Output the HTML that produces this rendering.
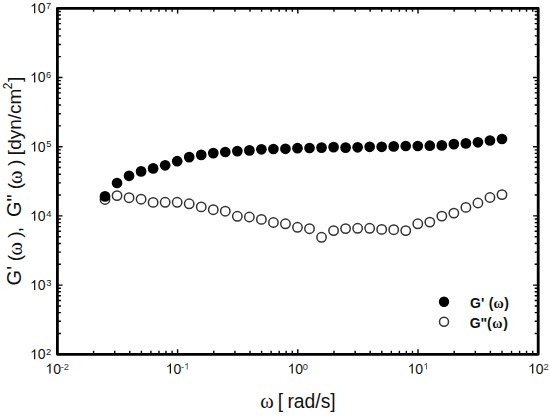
<!DOCTYPE html>
<html><head><meta charset="utf-8"><style>
html,body{margin:0;padding:0;background:#fff;}
body{width:550px;height:416px;overflow:hidden;}
svg{display:block;}
text{fill:#111;}
.o{fill:none;stroke:#333;stroke-width:1.5;}
.f{fill:#000;}
</style></head><body>
<svg width="550" height="416" viewBox="0 0 550 416">
<rect width="550" height="416" fill="#fff"/>
<path d="M93.58 354.30v-3.5M93.58 8.30v3.5M114.75 354.30v-3.5M114.75 8.30v3.5M129.77 354.30v-3.5M129.77 8.30v3.5M141.42 354.30v-3.5M141.42 8.30v3.5M150.93 354.30v-3.5M150.93 8.30v3.5M158.98 354.30v-3.5M158.98 8.30v3.5M165.95 354.30v-3.5M165.95 8.30v3.5M172.10 354.30v-3.5M172.10 8.30v3.5M177.60 354.30v-5.1M177.60 8.30v5.1M213.78 354.30v-3.5M213.78 8.30v3.5M234.95 354.30v-3.5M234.95 8.30v3.5M249.97 354.30v-3.5M249.97 8.30v3.5M261.62 354.30v-3.5M261.62 8.30v3.5M271.13 354.30v-3.5M271.13 8.30v3.5M279.18 354.30v-3.5M279.18 8.30v3.5M286.15 354.30v-3.5M286.15 8.30v3.5M292.30 354.30v-3.5M292.30 8.30v3.5M297.80 354.30v-5.1M297.80 8.30v5.1M333.98 354.30v-3.5M333.98 8.30v3.5M355.15 354.30v-3.5M355.15 8.30v3.5M370.17 354.30v-3.5M370.17 8.30v3.5M381.82 354.30v-3.5M381.82 8.30v3.5M391.33 354.30v-3.5M391.33 8.30v3.5M399.38 354.30v-3.5M399.38 8.30v3.5M406.35 354.30v-3.5M406.35 8.30v3.5M412.50 354.30v-3.5M412.50 8.30v3.5M418.00 354.30v-5.1M418.00 8.30v5.1M454.18 354.30v-3.5M454.18 8.30v3.5M475.35 354.30v-3.5M475.35 8.30v3.5M490.37 354.30v-3.5M490.37 8.30v3.5M502.02 354.30v-3.5M502.02 8.30v3.5M511.53 354.30v-3.5M511.53 8.30v3.5M519.58 354.30v-3.5M519.58 8.30v3.5M526.55 354.30v-3.5M526.55 8.30v3.5M532.70 354.30v-3.5M532.70 8.30v3.5M57.40 333.47h3.5M538.20 333.47h-3.5M57.40 321.28h3.5M538.20 321.28h-3.5M57.40 312.64h3.5M538.20 312.64h-3.5M57.40 305.93h3.5M538.20 305.93h-3.5M57.40 300.45h3.5M538.20 300.45h-3.5M57.40 295.82h3.5M538.20 295.82h-3.5M57.40 291.81h3.5M538.20 291.81h-3.5M57.40 288.27h3.5M538.20 288.27h-3.5M57.40 285.10h5.1M538.20 285.10h-5.1M57.40 264.27h3.5M538.20 264.27h-3.5M57.40 252.08h3.5M538.20 252.08h-3.5M57.40 243.44h3.5M538.20 243.44h-3.5M57.40 236.73h3.5M538.20 236.73h-3.5M57.40 231.25h3.5M538.20 231.25h-3.5M57.40 226.62h3.5M538.20 226.62h-3.5M57.40 222.61h3.5M538.20 222.61h-3.5M57.40 219.07h3.5M538.20 219.07h-3.5M57.40 215.90h5.1M538.20 215.90h-5.1M57.40 195.07h3.5M538.20 195.07h-3.5M57.40 182.88h3.5M538.20 182.88h-3.5M57.40 174.24h3.5M538.20 174.24h-3.5M57.40 167.53h3.5M538.20 167.53h-3.5M57.40 162.05h3.5M538.20 162.05h-3.5M57.40 157.42h3.5M538.20 157.42h-3.5M57.40 153.41h3.5M538.20 153.41h-3.5M57.40 149.87h3.5M538.20 149.87h-3.5M57.40 146.70h5.1M538.20 146.70h-5.1M57.40 125.87h3.5M538.20 125.87h-3.5M57.40 113.68h3.5M538.20 113.68h-3.5M57.40 105.04h3.5M538.20 105.04h-3.5M57.40 98.33h3.5M538.20 98.33h-3.5M57.40 92.85h3.5M538.20 92.85h-3.5M57.40 88.22h3.5M538.20 88.22h-3.5M57.40 84.21h3.5M538.20 84.21h-3.5M57.40 80.67h3.5M538.20 80.67h-3.5M57.40 77.50h5.1M538.20 77.50h-5.1M57.40 56.67h3.5M538.20 56.67h-3.5M57.40 44.48h3.5M538.20 44.48h-3.5M57.40 35.84h3.5M538.20 35.84h-3.5M57.40 29.13h3.5M538.20 29.13h-3.5M57.40 23.65h3.5M538.20 23.65h-3.5M57.40 19.02h3.5M538.20 19.02h-3.5M57.40 15.01h3.5M538.20 15.01h-3.5M57.40 11.47h3.5M538.20 11.47h-3.5" stroke="#000" stroke-width="1.4" fill="none"/>
<rect x="57.4" y="8.3" width="480.80" height="346.00" fill="none" stroke="#000" stroke-width="2.8" stroke-linejoin="round"/>
<path d="M763 0L583 0L583 1147Q518 1085 412 1023Q306 961 222 930L222 1104Q373 1175 486 1276Q599 1377 646 1472L763 1472Z" transform="translate(30.08,359.20) scale(0.006836,-0.006836)" fill="#111"/><text x="37.87" y="359.20" style="font-family:'Liberation Sans',sans-serif;font-size:14.0px;font-weight:normal">0</text>
<text x="46.03" y="355.00" style="font-family:'Liberation Sans',sans-serif;font-size:9.3px;font-weight:normal">2</text>
<path d="M763 0L583 0L583 1147Q518 1085 412 1023Q306 961 222 930L222 1104Q373 1175 486 1276Q599 1377 646 1472L763 1472Z" transform="translate(30.08,290.00) scale(0.006836,-0.006836)" fill="#111"/><text x="37.87" y="290.00" style="font-family:'Liberation Sans',sans-serif;font-size:14.0px;font-weight:normal">0</text>
<text x="46.15" y="285.80" style="font-family:'Liberation Sans',sans-serif;font-size:9.3px;font-weight:normal">3</text>
<path d="M763 0L583 0L583 1147Q518 1085 412 1023Q306 961 222 930L222 1104Q373 1175 486 1276Q599 1377 646 1472L763 1472Z" transform="translate(30.08,220.80) scale(0.006836,-0.006836)" fill="#111"/><text x="37.87" y="220.80" style="font-family:'Liberation Sans',sans-serif;font-size:14.0px;font-weight:normal">0</text>
<text x="46.29" y="216.60" style="font-family:'Liberation Sans',sans-serif;font-size:9.3px;font-weight:normal">4</text>
<path d="M763 0L583 0L583 1147Q518 1085 412 1023Q306 961 222 930L222 1104Q373 1175 486 1276Q599 1377 646 1472L763 1472Z" transform="translate(30.08,151.60) scale(0.006836,-0.006836)" fill="#111"/><text x="37.87" y="151.60" style="font-family:'Liberation Sans',sans-serif;font-size:14.0px;font-weight:normal">0</text>
<text x="46.13" y="147.40" style="font-family:'Liberation Sans',sans-serif;font-size:9.3px;font-weight:normal">5</text>
<path d="M763 0L583 0L583 1147Q518 1085 412 1023Q306 961 222 930L222 1104Q373 1175 486 1276Q599 1377 646 1472L763 1472Z" transform="translate(30.08,82.40) scale(0.006836,-0.006836)" fill="#111"/><text x="37.87" y="82.40" style="font-family:'Liberation Sans',sans-serif;font-size:14.0px;font-weight:normal">0</text>
<text x="46.03" y="78.20" style="font-family:'Liberation Sans',sans-serif;font-size:9.3px;font-weight:normal">6</text>
<path d="M763 0L583 0L583 1147Q518 1085 412 1023Q306 961 222 930L222 1104Q373 1175 486 1276Q599 1377 646 1472L763 1472Z" transform="translate(30.08,13.20) scale(0.006836,-0.006836)" fill="#111"/><text x="37.87" y="13.20" style="font-family:'Liberation Sans',sans-serif;font-size:14.0px;font-weight:normal">0</text>
<text x="46.02" y="9.00" style="font-family:'Liberation Sans',sans-serif;font-size:9.3px;font-weight:normal">7</text>
<path d="M763 0L583 0L583 1147Q518 1085 412 1023Q306 961 222 930L222 1104Q373 1175 486 1276Q599 1377 646 1472L763 1472Z" transform="translate(45.38,373.60) scale(0.006836,-0.006836)" fill="#111"/><text x="53.17" y="373.60" style="font-family:'Liberation Sans',sans-serif;font-size:14.0px;font-weight:normal">0</text>
<text x="60.69" y="369.60" style="font-family:'Liberation Sans',sans-serif;font-size:9.3px;font-weight:normal;fill:#333">-2</text>
<path d="M763 0L583 0L583 1147Q518 1085 412 1023Q306 961 222 930L222 1104Q373 1175 486 1276Q599 1377 646 1472L763 1472Z" transform="translate(165.78,373.60) scale(0.006836,-0.006836)" fill="#111"/><text x="173.57" y="373.60" style="font-family:'Liberation Sans',sans-serif;font-size:14.0px;font-weight:normal">0</text>
<text x="181.09" y="369.60" style="font-family:'Liberation Sans',sans-serif;font-size:9.3px;font-weight:normal;fill:#444">-</text>
<path d="M763 0L583 0L583 1147Q518 1085 412 1023Q306 961 222 930L222 1104Q373 1175 486 1276Q599 1377 646 1472L763 1472Z" transform="translate(184.18,369.60) scale(0.004541,-0.004541)" fill="#444"/>
<path d="M763 0L583 0L583 1147Q518 1085 412 1023Q306 961 222 930L222 1104Q373 1175 486 1276Q599 1377 646 1472L763 1472Z" transform="translate(287.58,373.60) scale(0.006836,-0.006836)" fill="#111"/><text x="295.37" y="373.60" style="font-family:'Liberation Sans',sans-serif;font-size:14.0px;font-weight:normal">0</text>
<text x="302.74" y="369.60" style="font-family:'Liberation Sans',sans-serif;font-size:9.3px;font-weight:normal;fill:#333">0</text>
<path d="M763 0L583 0L583 1147Q518 1085 412 1023Q306 961 222 930L222 1104Q373 1175 486 1276Q599 1377 646 1472L763 1472Z" transform="translate(407.58,373.60) scale(0.006836,-0.006836)" fill="#111"/><text x="415.37" y="373.60" style="font-family:'Liberation Sans',sans-serif;font-size:14.0px;font-weight:normal">0</text>
<path d="M763 0L583 0L583 1147Q518 1085 412 1023Q306 961 222 930L222 1104Q373 1175 486 1276Q599 1377 646 1472L763 1472Z" transform="translate(423.39,369.60) scale(0.004541,-0.004541)" fill="#444"/>
<path d="M763 0L583 0L583 1147Q518 1085 412 1023Q306 961 222 930L222 1104Q373 1175 486 1276Q599 1377 646 1472L763 1472Z" transform="translate(528.08,373.60) scale(0.006836,-0.006836)" fill="#111"/><text x="535.87" y="373.60" style="font-family:'Liberation Sans',sans-serif;font-size:14.0px;font-weight:normal">0</text>
<text x="543.53" y="369.60" style="font-family:'Liberation Sans',sans-serif;font-size:9.3px;font-weight:normal;fill:#333">2</text>
<text x="260.20" y="407.60" style="font-family:'Liberation Serif',serif;font-size:20.5px;font-weight:normal">ω</text>
<text x="277.66" y="407.60" style="font-family:'Liberation Sans',sans-serif;font-size:19.3px;font-weight:normal">[</text>
<text x="287.42" y="407.60" style="font-family:'Liberation Sans',sans-serif;font-size:19.3px;font-weight:normal">rad/s</text>
<text x="330.13" y="407.60" style="font-family:'Liberation Sans',sans-serif;font-size:19.3px;font-weight:normal">]</text>
<g transform="translate(21.0,0) rotate(-90)"><text x="-285.39" y="0.00" style="font-family:'Liberation Sans',sans-serif;font-size:20.0px">G'</text><text x="-261.30" y="0.00" style="font-family:'Liberation Sans',sans-serif;font-size:19.0px">(</text><text x="-255.50" y="0.60" style="font-family:'Liberation Serif',serif;font-size:20.5px">ω</text><text x="-237.68" y="0.00" style="font-family:'Liberation Sans',sans-serif;font-size:19.0px">)</text><text x="-232.29" y="0.00" style="font-family:'Liberation Sans',sans-serif;font-size:19.0px">,</text><text x="-217.11" y="0.00" style="font-family:'Liberation Sans',sans-serif;font-size:20.0px">G&quot;</text><text x="-189.30" y="0.00" style="font-family:'Liberation Sans',sans-serif;font-size:19.0px">(</text><text x="-184.05" y="0.60" style="font-family:'Liberation Serif',serif;font-size:20.5px">ω</text><text x="-165.88" y="0.00" style="font-family:'Liberation Sans',sans-serif;font-size:19.0px">)</text><text x="-155.15" y="0" style="font-family:'Liberation Sans',sans-serif;font-size:19.0px">[dyn/cm</text><text x="-89.34" y="-9.10" style="font-family:'Liberation Sans',sans-serif;font-size:12.0px">2</text><text x="-81.89" y="0.00" style="font-family:'Liberation Sans',sans-serif;font-size:19.0px">]</text></g>
<circle cx="105.00" cy="199.50" r="4.7" class="o"/>
<circle cx="117.03" cy="195.60" r="4.7" class="o"/>
<circle cx="129.06" cy="197.70" r="4.7" class="o"/>
<circle cx="141.09" cy="199.20" r="4.7" class="o"/>
<circle cx="153.12" cy="202.40" r="4.7" class="o"/>
<circle cx="165.15" cy="202.30" r="4.7" class="o"/>
<circle cx="177.18" cy="202.30" r="4.7" class="o"/>
<circle cx="189.21" cy="203.80" r="4.7" class="o"/>
<circle cx="201.24" cy="206.90" r="4.7" class="o"/>
<circle cx="213.27" cy="209.70" r="4.7" class="o"/>
<circle cx="225.30" cy="211.20" r="4.7" class="o"/>
<circle cx="237.33" cy="216.30" r="4.7" class="o"/>
<circle cx="249.36" cy="217.00" r="4.7" class="o"/>
<circle cx="261.39" cy="219.40" r="4.7" class="o"/>
<circle cx="273.42" cy="222.50" r="4.7" class="o"/>
<circle cx="285.45" cy="223.80" r="4.7" class="o"/>
<circle cx="297.48" cy="227.30" r="4.7" class="o"/>
<circle cx="309.51" cy="228.70" r="4.7" class="o"/>
<circle cx="321.54" cy="237.30" r="4.7" class="o"/>
<circle cx="333.57" cy="230.60" r="4.7" class="o"/>
<circle cx="345.60" cy="228.60" r="4.7" class="o"/>
<circle cx="357.63" cy="228.30" r="4.7" class="o"/>
<circle cx="369.66" cy="228.30" r="4.7" class="o"/>
<circle cx="381.69" cy="229.40" r="4.7" class="o"/>
<circle cx="393.72" cy="229.70" r="4.7" class="o"/>
<circle cx="405.75" cy="230.60" r="4.7" class="o"/>
<circle cx="417.78" cy="223.80" r="4.7" class="o"/>
<circle cx="429.81" cy="222.10" r="4.7" class="o"/>
<circle cx="441.84" cy="216.10" r="4.7" class="o"/>
<circle cx="453.87" cy="213.10" r="4.7" class="o"/>
<circle cx="465.90" cy="207.40" r="4.7" class="o"/>
<circle cx="477.93" cy="203.00" r="4.7" class="o"/>
<circle cx="489.96" cy="197.50" r="4.7" class="o"/>
<circle cx="501.99" cy="194.60" r="4.7" class="o"/>
<circle cx="105.00" cy="196.40" r="5.35" class="f"/>
<circle cx="117.03" cy="183.00" r="5.35" class="f"/>
<circle cx="129.06" cy="175.80" r="5.35" class="f"/>
<circle cx="141.09" cy="171.40" r="5.35" class="f"/>
<circle cx="153.12" cy="168.40" r="5.35" class="f"/>
<circle cx="165.15" cy="165.30" r="5.35" class="f"/>
<circle cx="177.18" cy="161.20" r="5.35" class="f"/>
<circle cx="189.21" cy="157.10" r="5.35" class="f"/>
<circle cx="201.24" cy="154.90" r="5.35" class="f"/>
<circle cx="213.27" cy="153.10" r="5.35" class="f"/>
<circle cx="225.30" cy="152.00" r="5.35" class="f"/>
<circle cx="237.33" cy="151.10" r="5.35" class="f"/>
<circle cx="249.36" cy="150.40" r="5.35" class="f"/>
<circle cx="261.39" cy="149.30" r="5.35" class="f"/>
<circle cx="273.42" cy="149.00" r="5.35" class="f"/>
<circle cx="285.45" cy="148.80" r="5.35" class="f"/>
<circle cx="297.48" cy="148.20" r="5.35" class="f"/>
<circle cx="309.51" cy="148.00" r="5.35" class="f"/>
<circle cx="321.54" cy="147.60" r="5.35" class="f"/>
<circle cx="333.57" cy="147.10" r="5.35" class="f"/>
<circle cx="345.60" cy="147.60" r="5.35" class="f"/>
<circle cx="357.63" cy="147.30" r="5.35" class="f"/>
<circle cx="369.66" cy="146.80" r="5.35" class="f"/>
<circle cx="381.69" cy="146.80" r="5.35" class="f"/>
<circle cx="393.72" cy="146.40" r="5.35" class="f"/>
<circle cx="405.75" cy="146.00" r="5.35" class="f"/>
<circle cx="417.78" cy="146.00" r="5.35" class="f"/>
<circle cx="429.81" cy="145.70" r="5.35" class="f"/>
<circle cx="441.84" cy="145.40" r="5.35" class="f"/>
<circle cx="453.87" cy="144.10" r="5.35" class="f"/>
<circle cx="465.90" cy="143.40" r="5.35" class="f"/>
<circle cx="477.93" cy="142.30" r="5.35" class="f"/>
<circle cx="489.96" cy="140.50" r="5.35" class="f"/>
<circle cx="501.99" cy="139.00" r="5.35" class="f"/>
<circle cx="444" cy="301.7" r="5.2" class="f"/>
<circle cx="444" cy="321.7" r="4.5" class="o"/>
<text x="470.07" y="307.50" style="font-family:'Liberation Sans',sans-serif;font-size:14.0px;font-weight:bold">G'</text>
<text x="488.83" y="307.50" style="font-family:'Liberation Sans',sans-serif;font-size:14.0px;font-weight:bold">(</text>
<text x="493.58" y="307.50" style="font-family:'Liberation Serif',serif;font-size:14.0px;font-weight:bold">ω</text>
<text x="504.16" y="307.50" style="font-family:'Liberation Sans',sans-serif;font-size:14.0px;font-weight:bold">)</text>
<text x="469.66" y="328.10" style="font-family:'Liberation Sans',sans-serif;font-size:14.0px;font-weight:bold">G&quot;</text>
<text x="487.03" y="328.10" style="font-family:'Liberation Sans',sans-serif;font-size:14.0px;font-weight:bold">(</text>
<text x="492.33" y="328.10" style="font-family:'Liberation Serif',serif;font-size:14.0px;font-weight:bold">ω</text>
<text x="503.21" y="328.10" style="font-family:'Liberation Sans',sans-serif;font-size:14.0px;font-weight:bold">)</text>
</svg>
</body></html>
